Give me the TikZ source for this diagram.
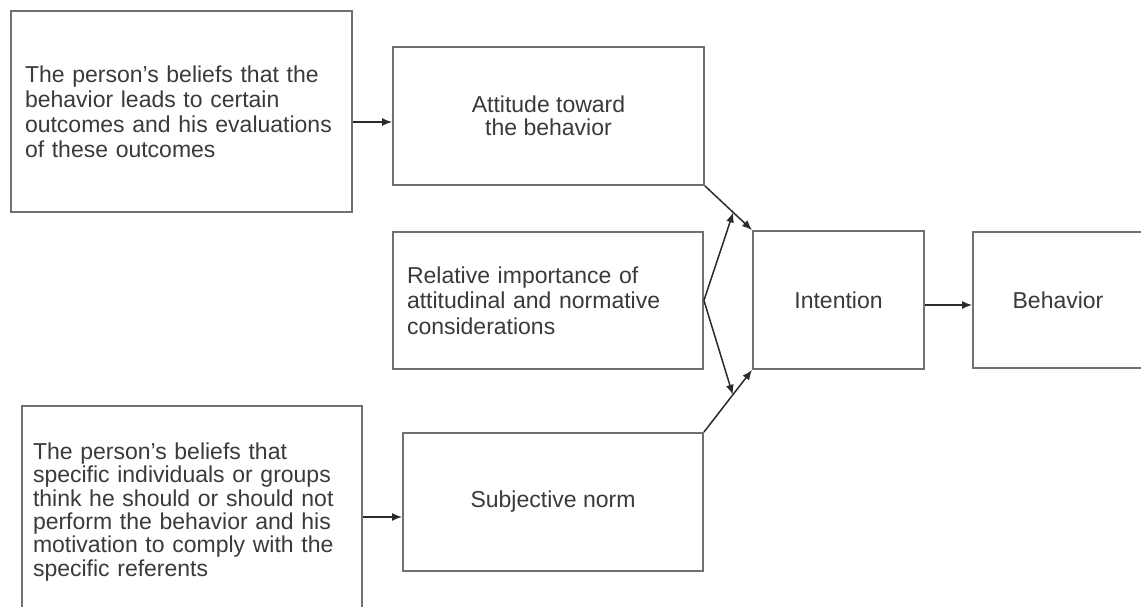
\documentclass[tikz,border=0pt]{standalone}
\usepackage{fontspec}
\setmainfont{Liberation Sans}
\usetikzlibrary{arrows.meta,calc}
\definecolor{boxgray}{HTML}{707070}
\definecolor{txtgray}{HTML}{3A3A3A}
\definecolor{arrgray}{HTML}{2A2A2A}
\begin{document}
\begin{tikzpicture}[x=1pt,y=-1pt,
  box/.style={draw=boxgray, line width=1.9pt, inner sep=0pt, text=txtgray,
    font=\fontsize{23}{25}\selectfont},
  arr/.style={draw=arrgray, line width=1.5pt, -{Latex[length=10pt,width=8pt]}}]
\useasboundingbox (0,0) rectangle (1141,607);
\fill[white] (0,0) rectangle (1141,607);
\clip (0,0) rectangle (1141,607);

\node[box, minimum width=341pt, minimum height=201pt, text width=313pt, align=left]
  (A) at (181.5,111.5) {The person's beliefs that the\\behavior leads to certain\\outcomes and his evaluations\\of these outcomes};
\node[box, minimum width=311pt, minimum height=138pt, align=center,
  font=\fontsize{23}{23}\selectfont]
  (B) at (548.5,116) {Attitude toward\\the behavior};
\node[box, minimum width=310pt, minimum height=137pt, text width=282pt, align=left,
  font=\fontsize{23}{25.5}\selectfont]
  (C) at (548,300.5) {Relative importance of\\attitudinal and normative\\considerations};
\node[box, minimum width=171pt, minimum height=138pt] (I) at (838.5,300) {Intention};
\node[box, minimum width=170pt, minimum height=136pt] (Bh) at (1058,300) {Behavior};
\node[box, minimum width=300pt, minimum height=138pt] (D) at (553,502) {Subjective norm};
\node[box, minimum width=340pt, minimum height=212pt, text width=318pt, align=left,
  font=\fontsize{23}{23.3}\selectfont]
  (E) at (192,512) {The person's beliefs that\\specific individuals or groups\\think he should or should not\\perform the behavior and his\\motivation to comply with the\\specific referents};

\draw[arr] ([yshift=-10.5pt]A.east) -- ([yshift=-10.5pt]A.east -| B.west);
\draw[arr] ([yshift=-5pt]E.east) -- ([yshift=-5pt]E.east -| D.west);
\draw[arr] ([yshift=-5pt]I.east) -- ([yshift=-5pt]I.east -| Bh.west);

\coordinate (cu) at ($(B.south east)!0.6!(I.north west)$);
\coordinate (cd) at ($(D.north east)!0.6!(I.south west)$);
\draw[arr] (B.south east) -- (I.north west);
\draw[arr] (D.north east) -- (I.south west);
\draw[arr] (C.east) -- (cu);
\draw[arr] (C.east) -- (cd);
\end{tikzpicture}
\end{document}
